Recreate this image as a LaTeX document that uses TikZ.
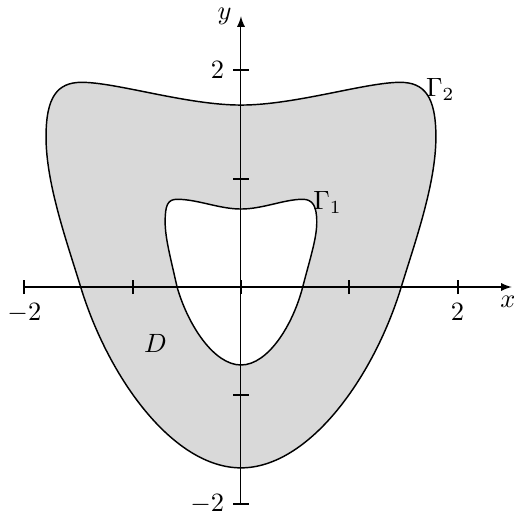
\documentclass[tikz,border=0pt]{standalone}
\usetikzlibrary{arrows}
\begin{document}
\begin{tikzpicture}[x=1.44cm, y=1.44cm,
    bdry/.style={line width=0.55pt},
    axtick/.style={line width=0.8pt}]
    \useasboundingbox (-2.225,-2.096) rectangle (2.52,2.65);
    % outer curve Gamma_2, filled
    \draw[bdry, fill=black!15] (0,-1.67)
        .. controls (0.62,-1.67) and (1.22,-0.85) .. (1.48,0)
        .. controls (1.605,0.41) and (1.80,0.95) .. (1.80,1.385)
        .. controls (1.80,1.75) and (1.70,1.89) .. (1.47,1.89)
        .. controls (1.15,1.89) and (0.5,1.68) .. (0,1.68)
        .. controls (-0.5,1.68) and (-1.15,1.89) .. (-1.47,1.89)
        .. controls (-1.70,1.89) and (-1.80,1.75) .. (-1.80,1.385)
        .. controls (-1.80,0.95) and (-1.605,0.41) .. (-1.48,0)
        .. controls (-1.22,-0.85) and (-0.62,-1.67) .. (0,-1.67) -- cycle;
    % inner curve Gamma_1, hole
    \draw[bdry, fill=white] (0,-0.72)
        .. controls (0.25,-0.72) and (0.48,-0.35) .. (0.57,0)
        .. controls (0.64,0.27) and (0.70,0.45) .. (0.70,0.60)
        .. controls (0.70,0.75) and (0.66,0.81) .. (0.57,0.81)
        .. controls (0.40,0.81) and (0.20,0.72) .. (0,0.72)
        .. controls (-0.20,0.72) and (-0.40,0.81) .. (-0.59,0.81)
        .. controls (-0.68,0.81) and (-0.70,0.75) .. (-0.70,0.60)
        .. controls (-0.70,0.45) and (-0.65,0.27) .. (-0.59,0)
        .. controls (-0.49,-0.35) and (-0.25,-0.72) .. (0,-0.72) -- cycle;
    % axes
    \draw[-latex] (-2,0) -- (2.5,0) coordinate (xtip);
    \draw[-latex] (0,-2) -- (0,2.5) node[left] (ylab) {$y$};
    \node[below left, xshift=5pt] (xlab) at (xtip) {$x$};
    \foreach \t in {-2,-1,1,2} {
        \draw[axtick] (\t,-0.065) -- (\t,0.065);
        \draw[axtick] (-0.07,\t) -- (0.07,\t);
    }
    \draw[axtick] (-0.065,0) -- (0.065,0);
    \draw[axtick] (0,-0.065) -- (0,0.065);
    \foreach \t/\lab in {-2/{-2}, 2/2} {
        \node[below] (xt\t) at (\t,-0.065) {$\lab$};
        \node[left] (yt\t) at (-0.07,\t) {$\lab$};
    }
    % labels
    \node (gtwo) at (1.84,1.82) {$\Gamma_2$};
    \node (gone) at (0.80,0.78) {$\Gamma_1$};
    \node (dom) at (-0.79,-0.52) {$D$};
\end{tikzpicture}
\end{document}
